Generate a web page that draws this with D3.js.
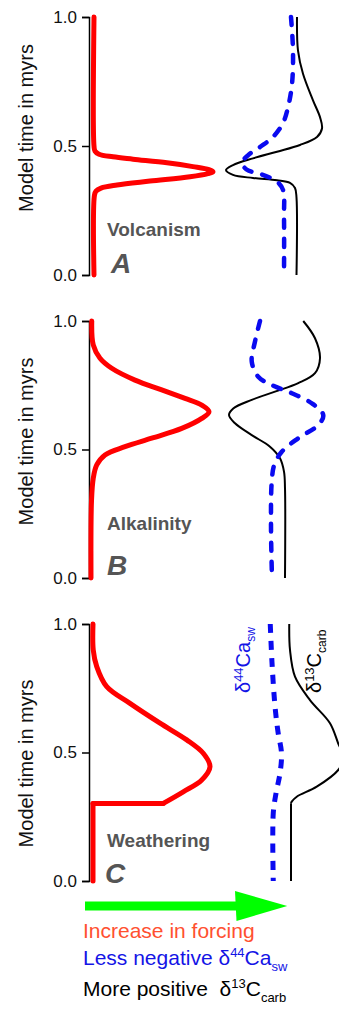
<!DOCTYPE html>
<html><head><meta charset="utf-8">
<script src="https://cdn.jsdelivr.net/npm/d3@7"></script>
<style>
html,body{margin:0;padding:0;background:#fff;}
svg{display:block;font-family:"Liberation Sans",Arial,Helvetica,sans-serif;}
</style></head><body>
<svg id="chart" width="339" height="1012"></svg>
<script>
// ---- data: [model time (myrs), schematic response (relative units 0-10)] ----
const timeTicks = [0, 0.5, 1.0];
const panelLetters = ["A", "B", "C"];
const panelNames = ["Volcanism", "Alkalinity", "Weathering"];

// Panel A: volcanism
const volcanismForcing = [[1.0,0.20],[0.50,0.20],[0.48,0.24],[0.468,0.40],[0.458,0.96],[0.449,1.76],[0.435,3.12],[0.42,4.16],[0.408,4.80],[0.40,4.96],[0.393,4.76],[0.381,4.04],[0.364,2.44],[0.349,1.12],[0.337,0.48],[0.325,0.28],[0.31,0.22],[0.0,0.20]];
const volcanismCa = [[1.0,8.08],[0.87,8.16],[0.74,8.12],[0.65,7.96],[0.589,7.76],[0.535,7.36],[0.496,6.84],[0.464,6.36],[0.434,6.12],[0.408,6.32],[0.388,6.96],[0.362,7.52],[0.33,7.76],[0.225,7.80],[0.0,7.80]];
const volcanismC = [[1.0,8.32],[0.87,8.36],[0.78,8.56],[0.677,8.96],[0.612,9.24],[0.568,9.32],[0.535,9.12],[0.504,8.44],[0.478,7.52],[0.452,6.56],[0.426,5.76],[0.407,5.48],[0.388,5.76],[0.376,6.56],[0.367,7.52],[0.357,8.04],[0.337,8.24],[0.30,8.30],[0.0,8.30]];

// Panel B: alkalinity
const alkalinityForcing = [[1.0,0.11],[0.907,0.17],[0.855,0.44],[0.816,0.91],[0.77,1.84],[0.732,2.91],[0.699,3.84],[0.673,4.51],[0.647,4.80],[0.621,4.51],[0.582,3.71],[0.544,2.51],[0.511,1.44],[0.479,0.64],[0.44,0.31],[0.388,0.17],[0.30,0.10],[0.0,0.08]];
const alkalinityCa = [[1.0,6.84],[0.92,6.64],[0.842,6.51],[0.783,6.77],[0.751,7.31],[0.719,8.11],[0.68,8.91],[0.634,9.37],[0.595,9.17],[0.544,8.37],[0.491,7.71],[0.44,7.41],[0.375,7.31],[0.2,7.28],[0.0,7.32]];
const alkalinityC = [[1.0,8.57],[0.933,9.04],[0.855,9.24],[0.797,9.04],[0.758,8.37],[0.725,7.44],[0.693,6.51],[0.66,5.77],[0.634,5.60],[0.602,5.84],[0.556,6.51],[0.511,7.24],[0.466,7.64],[0.414,7.80],[0.349,7.84],[0.0,7.84]];

// Panel C: weathering (sharp corners at listed indices)
const weatheringForcing = [[1.0,0.16],[0.899,0.17],[0.834,0.31],[0.756,0.71],[0.691,1.64],[0.614,2.84],[0.549,3.91],[0.497,4.57],[0.445,4.84],[0.393,4.51],[0.347,3.77],[0.302,2.97],[0.302,0.16],[0.0,0.16]];
const weatheringForcingCorners = [11, 12];
const weatheringCa = [[1.0,7.25],[0.85,7.32],[0.68,7.44],[0.58,7.56],[0.497,7.70],[0.419,7.64],[0.341,7.48],[0.263,7.37],[0.0,7.37]];
const weatheringC = [[1.0,8.01],[0.899,8.04],[0.795,8.24],[0.704,8.84],[0.614,9.64],[0.535,9.97],[0.48,10.2],[0.432,9.97],[0.367,9.11],[0.328,8.31],[0.309,8.11],[0.303,8.08],[0.0,8.08]];
const weatheringCCorners = [11];

// ---- layout ----
const W = 339, H = 1012;
const axisX = 89;
const panels = [
  {top:17,  bottom:275, titleY:128,   nameY:236, letterX:111, letterY:273,
   forcing:volcanismForcing, fc:[], ca:volcanismCa, c:volcanismC, cc:[], dash:"8,11", cap:"round"},
  {top:321, bottom:578, titleY:441.5, nameY:530, letterX:107, letterY:575,
   forcing:alkalinityForcing, fc:[], ca:alkalinityCa, c:alkalinityC, cc:[], dash:"8,11", cap:"round"},
  {top:624, bottom:881, titleY:763.5, nameY:847, letterX:105, letterY:883,
   forcing:weatheringForcing, fc:weatheringForcingCorners, ca:weatheringCa, c:weatheringC, cc:weatheringCCorners, dash:"9,8", cap:"butt"}
];

const svg = d3.select("#chart");
const x = d3.scaleLinear().domain([0, 10]).range([axisX, axisX + 250]);

function pieces(data, corners) {
  const cuts = [0, ...corners, data.length - 1];
  const out = [];
  for (let i = 0; i < cuts.length - 1; i++) out.push(data.slice(cuts[i], cuts[i+1] + 1));
  return out.filter(p => p.length > 1);
}

panels.forEach((p, i) => {
  const y = d3.scaleLinear().domain([0, 1]).range([p.bottom, p.top]);
  const g = svg.append("g");
  const line = d3.line().x(d => x(d[1])).y(d => y(d[0])).curve(d3.curveCatmullRom.alpha(0.5));

  // axis
  const ax = g.append("g").attr("transform", `translate(${axisX},0)`)
    .call(d3.axisLeft(y).tickValues(timeTicks).tickFormat(d3.format(".1f")).tickSize(7).tickPadding(5));
  ax.selectAll("path,line").attr("stroke", "#000").attr("stroke-width", 1.5);
  ax.selectAll("text").attr("font-size", 17).attr("fill", "#111")
    .attr("font-family", '"Liberation Sans",Arial,sans-serif');

  // axis title
  g.append("text").attr("transform", `translate(33,${p.titleY}) rotate(-90)`)
    .attr("text-anchor", "middle").attr("font-size", 20).attr("fill", "#111")
    .text("Model time in myrs");

  // forcing (red)
  pieces(p.forcing, p.fc).forEach(seg => {
    g.append("path").attr("d", line(seg)).attr("fill", "none")
      .attr("stroke", "#ff0000").attr("stroke-width", 5)
      .attr("stroke-linecap", "round").attr("stroke-linejoin", "round");
  });
  // d13C (black)
  pieces(p.c, p.cc).forEach(seg => {
    g.append("path").attr("d", line(seg)).attr("fill", "none")
      .attr("stroke", "#000").attr("stroke-width", 2).attr("stroke-linejoin", "round");
  });
  // d44Ca (blue dashed)
  g.append("path").attr("d", line(p.ca)).attr("fill", "none")
    .attr("stroke", "#0a0af0").attr("stroke-width", p.cap === "round" ? 4.5 : 5)
    .attr("stroke-dasharray", p.dash).attr("stroke-linecap", p.cap);

  // names & letters
  g.append("text").attr("x", 107).attr("y", p.nameY)
    .attr("font-size", 19).attr("font-weight", "bold").attr("fill", "#555")
    .text(panelNames[i]);
  g.append("text").attr("x", p.letterX).attr("y", p.letterY)
    .attr("font-size", 28).attr("font-weight", "bold").attr("font-style", "italic").attr("fill", "#555")
    .text(panelLetters[i]);
});

// vertical series labels in panel C
function isoLabel(sel, base, sup, main, sub, big, small, supSize) {
  sel.append("tspan").text(base);
  sel.append("tspan").attr("font-size", supSize).attr("dy", -big * 0.36).text(sup);
  sel.append("tspan").attr("dy", big * 0.36).text(main);
  sel.append("tspan").attr("font-size", small).attr("dy", big * 0.27).text(sub);
}
const caLab = svg.append("text").attr("transform", "translate(250,693) rotate(-90)")
  .attr("font-size", 20).attr("fill", "#1414e6");
isoLabel(caLab, "δ", "44", "Ca", "sw", 20, 12, 13);
const cLab = svg.append("text").attr("transform", "translate(321,693) rotate(-90)")
  .attr("font-size", 20).attr("fill", "#000");
isoLabel(cLab, "δ", "13", "C", "carb", 20, 12, 13);

// green arrow
const arrowY = 906;
svg.append("line").attr("x1", x(-0.16)).attr("x2", x(6.1)).attr("y1", arrowY).attr("y2", arrowY)
  .attr("stroke", "#00ff00").attr("stroke-width", 9);
svg.append("path")
  .attr("d", `M${x(5.84)},${arrowY-15} L${x(7.93)},${arrowY} L${x(5.9)},${arrowY+15} Z`)
  .attr("fill", "#00ff00");

// bottom legend text
svg.append("text").attr("x", 83).attr("y", 938).attr("font-size", 21).attr("fill", "#ff5030")
  .text("Increase in forcing");
const l2 = svg.append("text").attr("x", 83).attr("y", 965).attr("font-size", 21).attr("fill", "#1414e6");
isoLabel(l2, "Less negative δ", "44", "Ca", "sw", 21, 13, 13);
const l3 = svg.append("text").attr("x", 83).attr("y", 996).attr("font-size", 21).attr("fill", "#000")
  .style("white-space", "pre");
isoLabel(l3, "More positive  δ", "13", "C", "carb", 21, 13, 13);
</script>
</body></html>
